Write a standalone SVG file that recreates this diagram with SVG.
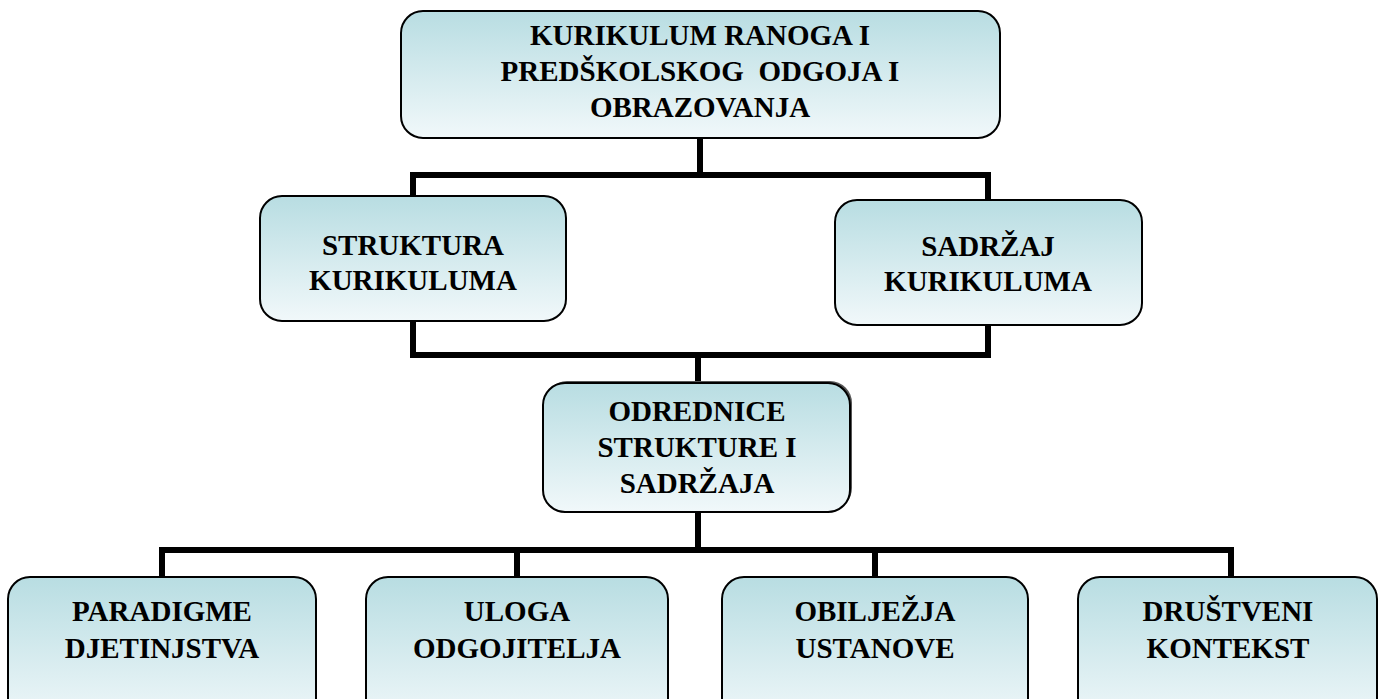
<svg xmlns="http://www.w3.org/2000/svg" width="1379" height="699" viewBox="0 0 1379 699">
<defs>
<linearGradient id="g" x1="0" y1="0" x2="0" y2="1">
<stop offset="0" stop-color="#b8dde2"/>
<stop offset="1" stop-color="#f1f8fa"/>
</linearGradient>
<style>
.box{fill:url(#g);stroke:#000;stroke-width:2}
.t{font-weight:bold;font-size:29px;fill:#000;text-anchor:middle;white-space:pre}
.c{fill:none;stroke:#000;stroke-width:6;stroke-linejoin:miter;stroke-linecap:butt}
</style>
</defs>
<rect width="1379" height="699" fill="#fff"/>
<g id="connectors">
<path class="c" d="M700 138 V175"/>
<path class="c" d="M413 196 V175 H988 V200"/>
<path class="c" d="M413 321 V355 H988 V325"/>
<path class="c" d="M698 355 V383"/>
<path class="c" d="M698 512 V550"/>
<path class="c" d="M162 577 V550 H1231 V577"/>
<path class="c" d="M517 550 V577"/>
<path class="c" d="M875 550 V577"/>
</g>
<g font-family="'Liberation Serif', 'Times New Roman', 'DejaVu Serif', serif">
<g id="n-top">
<rect class="box" x="401" y="11" width="599" height="127" rx="22"/>
<text class="t" x="700" y="45">KURIKULUM RANOGA I</text>
<text class="t" x="700" y="81">PREDŠKOLSKOG  ODGOJA I</text>
<text class="t" x="700" y="117">OBRAZOVANJA</text>
</g>
<g id="n-struktura">
<rect class="box" x="260" y="196" width="306" height="125" rx="22"/>
<text class="t" x="413" y="255">STRUKTURA</text>
<text class="t" x="413" y="290">KURIKULUMA</text>
</g>
<g id="n-sadrzaj">
<rect class="box" x="835" y="200" width="307" height="125" rx="22"/>
<text class="t" x="988" y="256">SADRŽAJ</text>
<text class="t" x="988" y="291">KURIKULUMA</text>
</g>
<g id="n-odrednice">
<rect x="545" y="381" width="307" height="129" rx="22" fill="#555"/>
<rect class="box" x="543" y="383" width="307" height="129" rx="22"/>
<text class="t" x="697" y="421">ODREDNICE</text>
<text class="t" x="697" y="457">STRUKTURE I</text>
<text class="t" x="697" y="493">SADRŽAJA</text>
</g>
<g id="n-paradigme">
<rect class="box" x="8" y="577" width="308" height="150" rx="22"/>
<text class="t" x="162" y="621">PARADIGME</text>
<text class="t" x="162" y="658">DJETINJSTVA</text>
</g>
<g id="n-uloga">
<rect class="box" x="366" y="577" width="302" height="150" rx="22"/>
<text class="t" x="517" y="621">ULOGA</text>
<text class="t" x="517" y="658">ODGOJITELJA</text>
</g>
<g id="n-obiljezja">
<rect class="box" x="722" y="577" width="306" height="150" rx="22"/>
<text class="t" x="875" y="621">OBILJEŽJA</text>
<text class="t" x="875" y="658">USTANOVE</text>
</g>
<g id="n-drustveni">
<rect class="box" x="1078" y="577" width="299" height="150" rx="22"/>
<text class="t" x="1228" y="621">DRUŠTVENI</text>
<text class="t" x="1228" y="658">KONTEKST</text>
</g>
</g>
</svg>
